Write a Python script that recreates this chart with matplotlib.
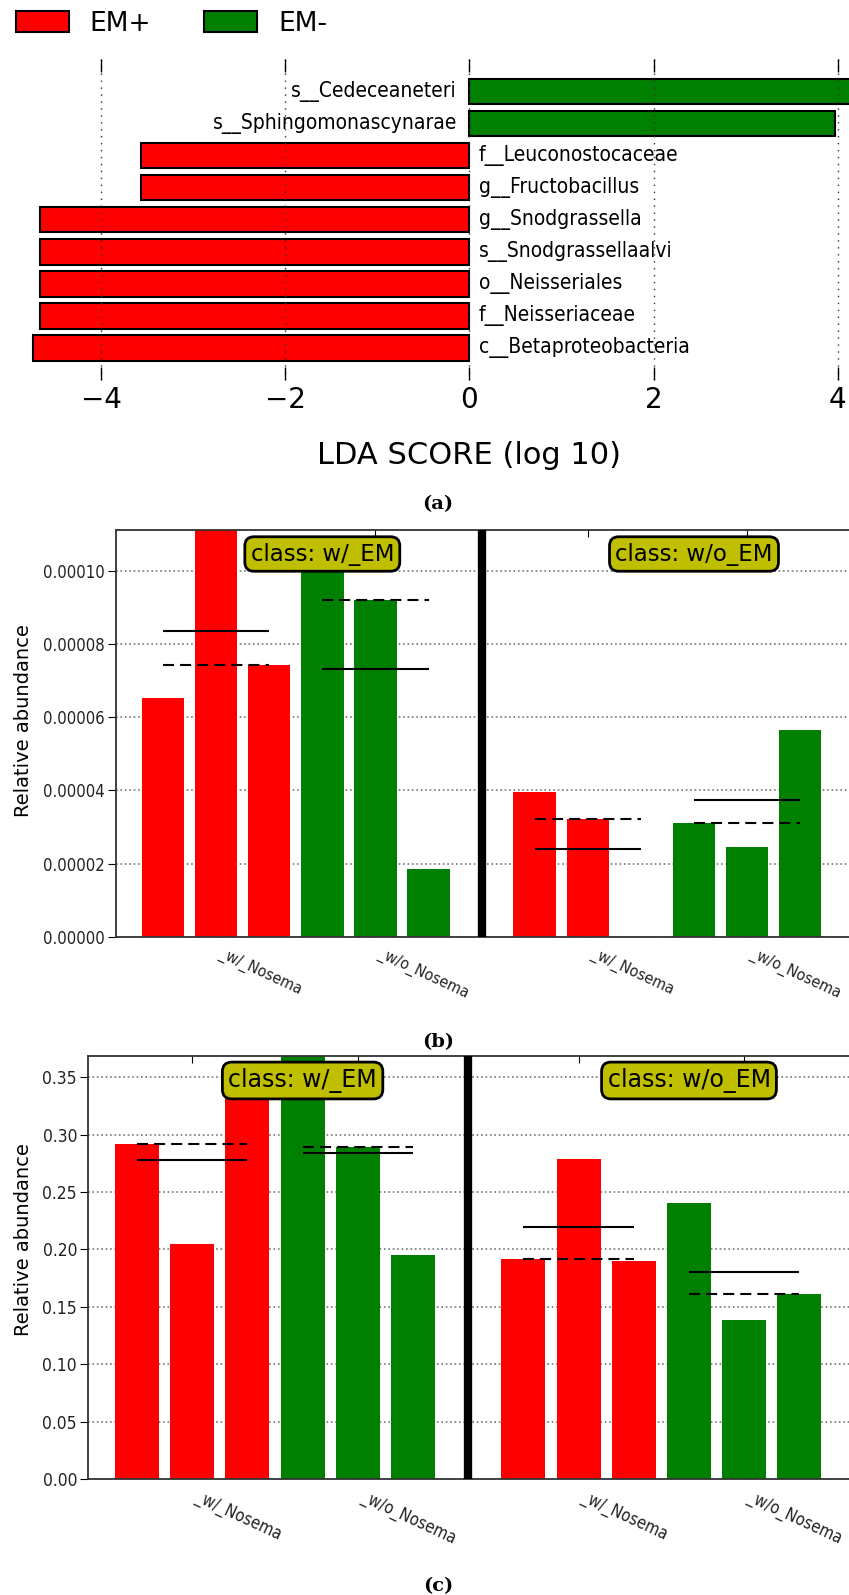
import matplotlib
matplotlib.use("Agg")
import numpy as np
import matplotlib.pyplot as plt
import matplotlib.transforms as mtransforms
from matplotlib import font_manager as fm
from matplotlib.patches import Patch

# ---- (a) LDA scores ----
lda_taxa = ["s__Cedeceaneteri", "s__Sphingomonascynarae", "f__Leuconostocaceae",
            "g__Fructobacillus", "g__Snodgrassella", "s__Snodgrassellaalvi",
            "o__Neisseriales", "f__Neisseriaceae", "c__Betaproteobacteria"]
lda_class = ["EM-", "EM-", "EM+", "EM+", "EM+", "EM+", "EM+", "EM+", "EM+"]
lda_score = [4.30, 3.97, 3.57, 3.57, 4.66, 4.66, 4.66, 4.66, 4.74]

# ---- (b), (c) per-sample relative abundance ----
classes = ["w/_EM", "w/o_EM"]
subclasses = ["_w/_Nosema", "_w/o_Nosema"]
b_w_em_nosema = [6.53e-5, 1.113e-4, 7.42e-5]
b_w_em_no_nosema = [1.087e-4, 9.20e-5, 1.86e-5]
b_wo_em_nosema = [3.96e-5, 3.21e-5, 0.0]
b_wo_em_no_nosema = [3.11e-5, 2.46e-5, 5.65e-5]

c_w_em_nosema = [0.2921, 0.2044, 0.3372]
c_w_em_no_nosema = [0.3685, 0.2895, 0.1949]
c_wo_em_nosema = [0.1914, 0.2785, 0.1896]
c_wo_em_no_nosema = [0.2404, 0.1382, 0.1611]

RED, GREEN = "#ff0000", "#008000"
W, H = 849, 1595


def narrow_font(size):
    """Condensed sans for the smaller labels, if one is installed."""
    for f in fm.fontManager.ttflist:
        cond = f.name == "DejaVu Sans Condensed" or (
            f.name == "DejaVu Sans" and f.stretch == "condensed")
        if cond and f.weight in (400, "normal", "book", "regular") and f.style == "normal":
            return fm.FontProperties(fname=f.fname, size=size)
    for f in fm.fontManager.ttflist:
        if f.name == "Liberation Sans Narrow" and f.weight in (400, "normal") and f.style == "normal":
            return fm.FontProperties(fname=f.fname, size=size)
    return fm.FontProperties(family="DejaVu Sans", size=size * 0.87)


def sized(fp, size):
    fp = fp.copy()
    fp.set_size(size)
    return fp


NARROW = narrow_font(15)

fig = plt.figure(figsize=(W / 100, H / 100), dpi=100)


def add_px_axes(left, top, width, height):
    return fig.add_axes([left / W, 1 - (top + height) / H, width / W, height / H])


# ================= (a) =================
ax = add_px_axes(8.9, 59.3, 921.0, 320.7)
ax.set_frame_on(False)
n = len(lda_taxa)
ypos = np.arange(n)[::-1]
vals = [s if c == "EM-" else -s for s, c in zip(lda_score, lda_class)]
cols = [GREEN if c == "EM-" else RED for c in lda_class]
ax.barh(ypos, vals, height=0.8, color=cols, edgecolor="k", linewidth=1.5, zorder=1)
for y, v, name in zip(ypos, vals, lda_taxa):
    if v > 0:
        tr = mtransforms.offset_copy(ax.transData, fig=fig, x=-9, y=0, units="points")
        ax.text(0, y, name, ha="right", va="center", fontproperties=NARROW, transform=tr)
    else:
        tr = mtransforms.offset_copy(ax.transData, fig=fig, x=7, y=0, units="points")
        ax.text(0, y, name, ha="left", va="center", fontproperties=NARROW, transform=tr)
ax.set_xlim(-5, 5)
ax.set_ylim(-1, n)
ax.set_yticks([])
ax.set_xticks([-4, -2, 0, 2, 4])
ax.tick_params(axis="x", direction="in", length=9.5, width=1, top=True, bottom=True,
               labelsize=20, pad=4)
ax.xaxis.grid(True, linestyle=(0, (1, 4)), color="#333333", linewidth=1)
ax.set_axisbelow(False)
ax.set_xlabel("LDA SCORE (log 10)", fontsize=22, va="center")
ax.xaxis.set_label_coords(0.5, -(456 - 380) / 320.7)

handles = [Patch(facecolor=RED, edgecolor="k", linewidth=1.5),
           Patch(facecolor=GREEN, edgecolor="k", linewidth=1.5)]
fig.legend(handles, ["EM+", "EM-"], loc="upper left", bbox_to_anchor=(5.4 / W, 1.0),
           ncol=2, frameon=False, fontsize=19, handlelength=2.0, handleheight=0.9,
           columnspacing=2.0, handletextpad=0.8, borderpad=0.4, borderaxespad=0)


# ================= (b), (c) =================
def feature_panel(left, top, ppu, height, groups, ytick_step, yfmt, fs, box_fs,
                  box_top_px, ylabel_y):
    # bar k sits at k; bars 0-5 for w/_EM, 6 is the separator, 7-12 for w/o_EM
    x_lo, x_hi = -0.885, 13.0
    ax = add_px_axes(left, top, (x_hi - x_lo) * ppu, height)
    vals = []
    k = 0
    for gi, grp in enumerate(groups):
        for si, sub in enumerate(grp):
            xk = np.arange(k, k + len(sub))
            ax.bar(xk, sub, width=0.8, color=RED if si == 0 else GREEN, linewidth=0,
                   zorder=2)
            ax.hlines(np.mean(sub), xk[0], xk[-1], colors="k", linewidth=1.5, zorder=3)
            ax.hlines(np.median(sub), xk[0], xk[-1], colors="k", linewidth=1.5,
                      linestyles=(0, (5.3, 2.9)), zorder=3)
            vals += list(sub)
            k += len(sub)
        if gi == 0:
            ax.axvline(k, color="k", linewidth=6, zorder=4)
            k += 1
    top_v = max(vals)
    ax.set_xlim(x_lo, x_hi)
    ax.set_ylim(0, top_v)
    yt = np.arange(0, top_v, ytick_step)
    ax.set_yticks(yt)
    ax.set_yticklabels([yfmt % t for t in yt], fontproperties=sized(NARROW, fs))
    ax.set_xticks([1, 4, 8, 11])
    ax.set_xticklabels(subclasses * 2, rotation=-25, ha="left", va="top",
                       rotation_mode="default", fontproperties=sized(NARROW, fs - 0.5))
    ax.tick_params(axis="x", direction="in", length=5, top=True, pad=6,
                   labelcolor="#222222")
    ax.tick_params(axis="y", direction="out", length=6, pad=2, labelcolor="#222222")
    ax.yaxis.grid(True, linestyle=":", color="#777777", linewidth=1.2)
    ax.set_axisbelow(True)
    for side in ("top", "left", "bottom"):
        ax.spines[side].set_linewidth(1.3)
        ax.spines[side].set_color("#333333")
    ax.spines["right"].set_visible(False)
    blend = mtransforms.blended_transform_factory(ax.transData, ax.transAxes)
    by = 1 - (box_top_px - top) / height
    for xc, cl in zip([3, 10], classes):
        ax.text(xc, by, "class: " + cl, transform=blend, ha="center", va="center",
                fontsize=box_fs, zorder=6,
                bbox=dict(boxstyle="round,pad=0.25,rounding_size=0.4",
                          facecolor=(0.75, 0.75, 0), edgecolor="k", linewidth=2))
    ax.set_ylabel("Relative abundance", fontsize=14, va="center")
    ax.yaxis.set_label_coords((24 - left) / ((x_hi - x_lo) * ppu),
                              (top + height - ylabel_y) / height)
    return ax


# bar 0 centre / pixel scale for each panel
b_left = 163 - 0.885 * 53.1
feature_panel(b_left, 529.5, 53.1, 407.2,
              [[b_w_em_nosema, b_w_em_no_nosema], [b_wo_em_nosema, b_wo_em_no_nosema]],
              2e-5, "%.5f", 12, 16.5, 554, 720.5)

c_left = 137 - 0.885 * 55.2
feature_panel(c_left, 1056, 55.2, 423,
              [[c_w_em_nosema, c_w_em_no_nosema], [c_wo_em_nosema, c_wo_em_no_nosema]],
              0.05, "%.2f", 12.5, 17, 1080.5, 1240)

for lab, yc in (("(a)", 504), ("(b)", 1042), ("(c)", 1586)):
    fig.text(438 / W, 1 - yc / H, lab, ha="center", va="center", fontsize=14,
             fontfamily="DejaVu Serif", fontweight="bold")

fig.savefig("out.png", dpi=100)
